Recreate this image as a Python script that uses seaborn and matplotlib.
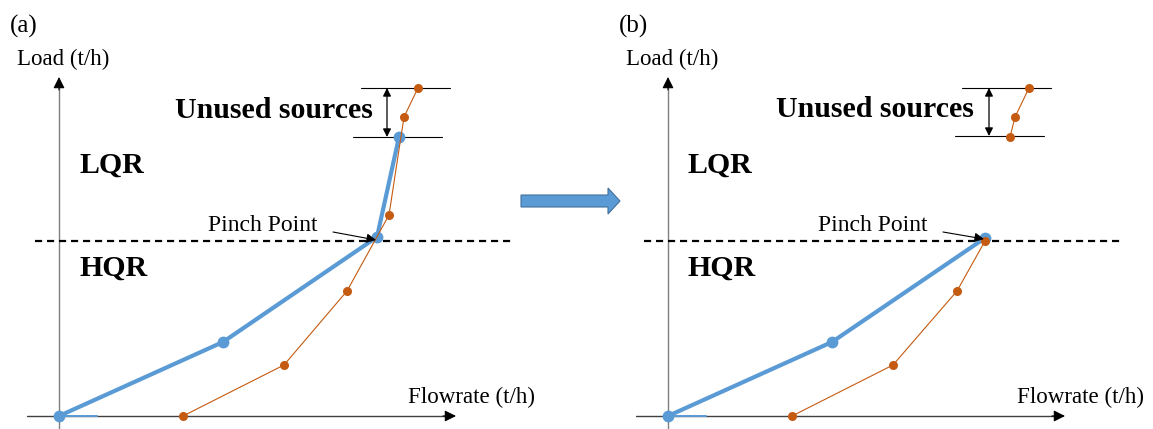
"""
plot.py
-------
Two-panel sketch of a load vs flowrate composite curve, before (a) and
after (b) moving the pinch point. Saves out.png.
"""

import matplotlib.pyplot as plt
import seaborn as sns
from matplotlib.patches import FancyArrow

BLUE = "#5b9bd5"
ORANGE = "#c55a11"

# panel (a): demand curve (blue) and source curve (orange)
demand_a_flow = [0, 164, 318, 340]
demand_a_load = [0, 74, 179, 279]
source_a_flow = [124, 225, 288, 330, 345, 359]
source_a_load = [0, 51, 125, 201, 299, 328]

# panel (b): pinch moved up to the top of the demand curve
demand_b_flow = [0, 164, 317]
demand_b_load = [0, 74, 178]
source_b_flow = [124, 225, 289, 317]
source_b_load = [0, 51, 125, 175]
unused_b_flow = [342, 347, 361]
unused_b_load = [279, 299, 328]

pinch_load = 175
unused_top = 328

sns.set_theme(style="white")
plt.rcParams["font.family"] = ["Liberation Serif", "DejaVu Serif"]
plt.rcParams["text.color"] = "black"

fig = plt.figure(figsize=(11.53, 4.29), dpi=100)
ax_a = fig.add_axes([0, 0, 520 / 1153, 1])
ax_b = fig.add_axes([520 / 1153, 0, 633 / 1153, 1])
ax_a.set_xlim(-59, 461)
ax_b.set_xlim(-148, 485)


def head(ax, tip, tail):
    ax.annotate("", xy=tip, xytext=tail,
                arrowprops=dict(arrowstyle="-|>", color="black", lw=0.8,
                                mutation_scale=17, shrinkA=0, shrinkB=0))


def draw_frame(ax, label, unused_bottom, bracket_x, arrow_x):
    ax.set_ylim(-13, 416)
    ax.axis("off")

    # axes: thin gray lines with solid black heads
    ax.plot([0, 0], [-14, 333], color="#7f7f7f", lw=1.0, clip_on=False)
    ax.plot([-32, 391], [0, 0], color="#404040", lw=1.0, clip_on=False)
    head(ax, (0, 339), (0, 326))
    head(ax, (397, 0), (384, 0))

    # pinch line
    ax.plot([-24, 454], [pinch_load, pinch_load], color="black", lw=1.6,
            dashes=(3.2, 2.2), clip_on=False)

    # unused sources bracket
    ax.plot(bracket_x[0], [unused_top, unused_top], color="black", lw=0.8)
    ax.plot(bracket_x[1], [unused_bottom, unused_bottom], color="black", lw=0.8)
    ax.annotate("", xy=(arrow_x, unused_top), xytext=(arrow_x, unused_bottom),
                arrowprops=dict(arrowstyle="<|-|>", color="black", lw=0.9,
                                mutation_scale=12, shrinkA=0, shrinkB=0))

    ax.plot([0, 38], [0, 0], color=BLUE, lw=1.4, zorder=5)

    # labels
    ax.text(label[1], 383, label[0], fontsize=18, va="baseline")
    ax.text(-42, 351, "Load (t/h)", fontsize=16.5, va="baseline")
    ax.text(349, 13, "Flowrate (t/h)", fontsize=16.6, va="baseline")
    ax.text(20, 243, "LQR", fontsize=21.5, fontweight="bold", va="baseline")
    ax.text(20, 140, "HQR", fontsize=21.5, fontweight="bold", va="baseline")


def curve(ax, x, y, color, lw, ms):
    sns.lineplot(x=x, y=y, ax=ax, sort=False, estimator=None, color=color,
                 linewidth=lw, marker="o", markersize=ms, markeredgewidth=0,
                 clip_on=False)


# ---- panel (a)
draw_frame(ax_a, ("(a)", -49), 279, ([302, 391], [294, 383]), 328)
curve(ax_a, demand_a_flow, demand_a_load, BLUE, 3.0, 8.5)
curve(ax_a, source_a_flow, source_a_load, ORANGE, 0.8, 6.5)
ax_a.text(116, 298, "Unused sources", fontsize=21.5, fontweight="bold",
          va="baseline")
ax_a.text(149, 185, "Pinch Point", fontsize=17, va="baseline")
ax_a.annotate("", xy=(317, 176), xytext=(274, 184),
              arrowprops=dict(arrowstyle="-|>", color="black", lw=0.8,
                              mutation_scale=14, shrinkA=0, shrinkB=0))

# ---- panel (b)
draw_frame(ax_b, ("(b)", -49), 280, ([294, 383], [287, 376]), 321)
curve(ax_b, demand_b_flow, demand_b_load, BLUE, 3.0, 8.5)
curve(ax_b, source_b_flow, source_b_load, ORANGE, 0.8, 6.5)
curve(ax_b, unused_b_flow, unused_b_load, ORANGE, 0.8, 6.5)
ax_b.text(108, 299, "Unused sources", fontsize=21.5, fontweight="bold",
          va="baseline")
ax_b.text(150, 185, "Pinch Point", fontsize=17, va="baseline")
ax_b.annotate("", xy=(316, 177), xytext=(275, 184),
              arrowprops=dict(arrowstyle="-|>", color="black", lw=0.8,
                              mutation_scale=14, shrinkA=0, shrinkB=0))

# block arrow between the panels
ax_a.add_patch(FancyArrow(462, 215, 99, 0, width=12, head_width=26,
                          head_length=12, length_includes_head=True,
                          facecolor=BLUE, edgecolor="#41719c", lw=0.8,
                          clip_on=False))

fig.savefig("out.png", dpi=100)
